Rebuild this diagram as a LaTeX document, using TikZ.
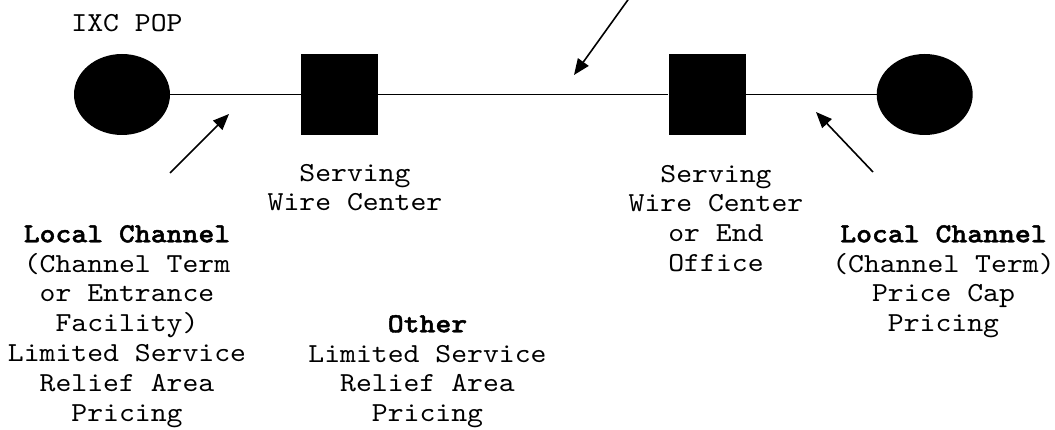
\documentclass[tikz,border=0pt]{standalone}
\usepackage{fontspec}
\setmonofont{lmmono10-regular}[Extension=.otf, BoldFont=lmmonolt10-bold, BoldFeatures={FakeBold=1.5}, FakeStretch=1.1]
\usetikzlibrary{arrows.meta,shapes.geometric}
\newcommand\myfs{\ttfamily\fontsize{27.5}{29.8}\selectfont}
\begin{document}
\begin{tikzpicture}[x=1pt,y=-1pt,
  pop/.style={ellipse,fill=black,draw=none,minimum width=96pt,minimum height=81pt,inner sep=0pt},
  wc/.style={rectangle,fill=black,draw=none,minimum width=77pt,minimum height=81pt,inner sep=0pt},
  lbl/.style={font=\myfs,align=center,anchor=north,inner sep=0pt},
  link/.style={line width=1.6pt},
  ptr/.style={line width=1.6pt,-{Triangle[length=16pt,width=13pt]}}]
\useasboundingbox (0,0) rectangle (1055,430);
\node[pop] (lpop) at (122,94.5) {};
\node[wc] (lsq) at (339.5,94.5) {};
\node[wc] (rsq) at (707,94.5) {};
\node[pop] (rpop) at (924.7,94.5) {};
\draw[link] (lpop) -- (lsq);
\draw[link] (lsq) -- (rsq);
\draw[link] (rsq) -- (rpop);
\node[lbl] (ixc) at (127,10.8) {\strut IXC POP};
\node[lbl] (lwc) at (355,160.1) {\strut Serving\\Wire Center};
\node[lbl] (rwc) at (716,161) {\strut Serving\\Wire Center\\or End\\Office};
\node[lbl] (llc) at (127,221.2) {\strut\textbf{Local Channel}\\(Channel Term\\or Entrance\\Facility)\\Limited Service\\Relief Area\\Pricing};
\node[lbl] (oth) at (427.5,311.2) {\strut\textbf{Other}\\Limited Service\\Relief Area\\Pricing};
\node[lbl] (rlc) at (943.5,221.2) {\strut\textbf{Local Channel}\\(Channel Term)\\Price Cap\\Pricing};
\coordinate (a1s) at (170,173);
\coordinate (a1e) at (229,114);
\coordinate (a2s) at (630,-3);
\coordinate (a2e) at (574,75);
\coordinate (a3s) at (873,172);
\coordinate (a3e) at (816,112);
\draw[ptr] (a1s) -- (a1e);
\draw[ptr] (a2s) -- (a2e);
\draw[ptr] (a3s) -- (a3e);
\end{tikzpicture}
\end{document}
